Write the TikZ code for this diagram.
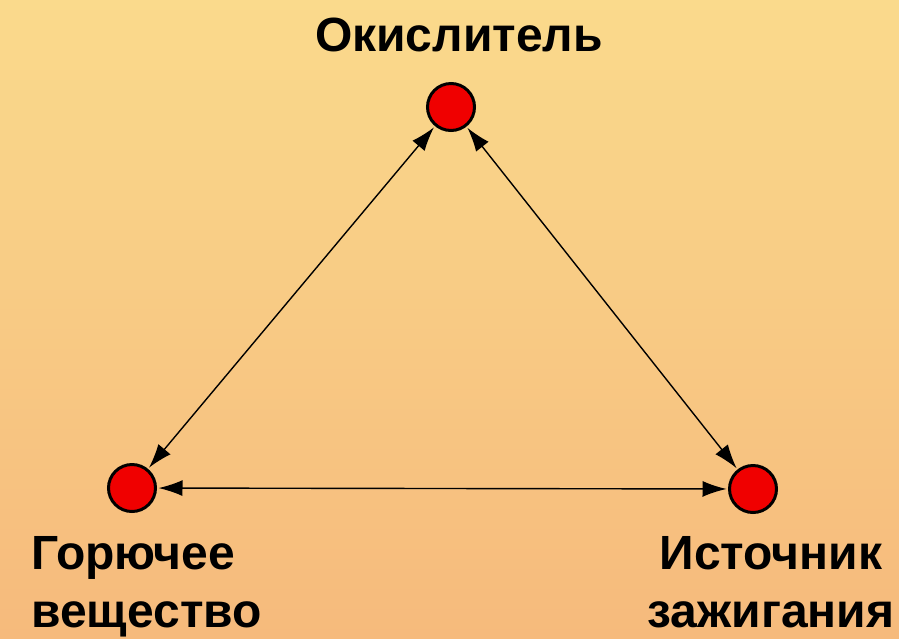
\documentclass[tikz,border=0pt]{standalone}
\usepackage{fontspec}
\setmainfont{Liberation Sans}
\usetikzlibrary{arrows.meta}
\definecolor{bgtop}{RGB}{250,218,140}
\definecolor{bgbot}{RGB}{246,186,124}
\definecolor{dotred}{RGB}{240,0,0}
\begin{document}
\begin{tikzpicture}[x=1pt,y=-1pt,
  vertex/.style={circle,draw=black,line width=3pt,fill=dotred,minimum size=47pt,inner sep=0pt},
  caption/.style={font=\bfseries\fontsize{48}{58}\selectfont,inner sep=0pt},
  link/.style={line width=1.4pt,{Latex[length=24pt,width=16pt]}-{Latex[length=24pt,width=16pt]},shorten <=1.5pt,shorten >=1.5pt}]
  % background
  \shade[top color=bgtop,bottom color=bgbot] (0,0) rectangle (899,638);
  \useasboundingbox (0,0) rectangle (899,638);
  % triangle vertices
  \node[vertex] (ox) at (451,107) {};
  \node[vertex] (fu) at (132,488) {};
  \node[vertex] (ig) at (753,489) {};
  % captions (base anchor of a multi-line node sits on its last line)
  \node[caption,anchor=base] (oxt) at (459,51) {Окислитель};
  \node[caption,align=left,anchor=base west] (fut) at (31,627) {Горючее\\вещество};
  \node[caption,align=center,anchor=base] (igt) at (771,627) {Источник\\зажигания};
  % connectors
  \draw[link] (ox) -- (fu);
  \draw[link] (ox) -- (ig);
  \draw[link] (fu) -- (ig);
\end{tikzpicture}
\end{document}
